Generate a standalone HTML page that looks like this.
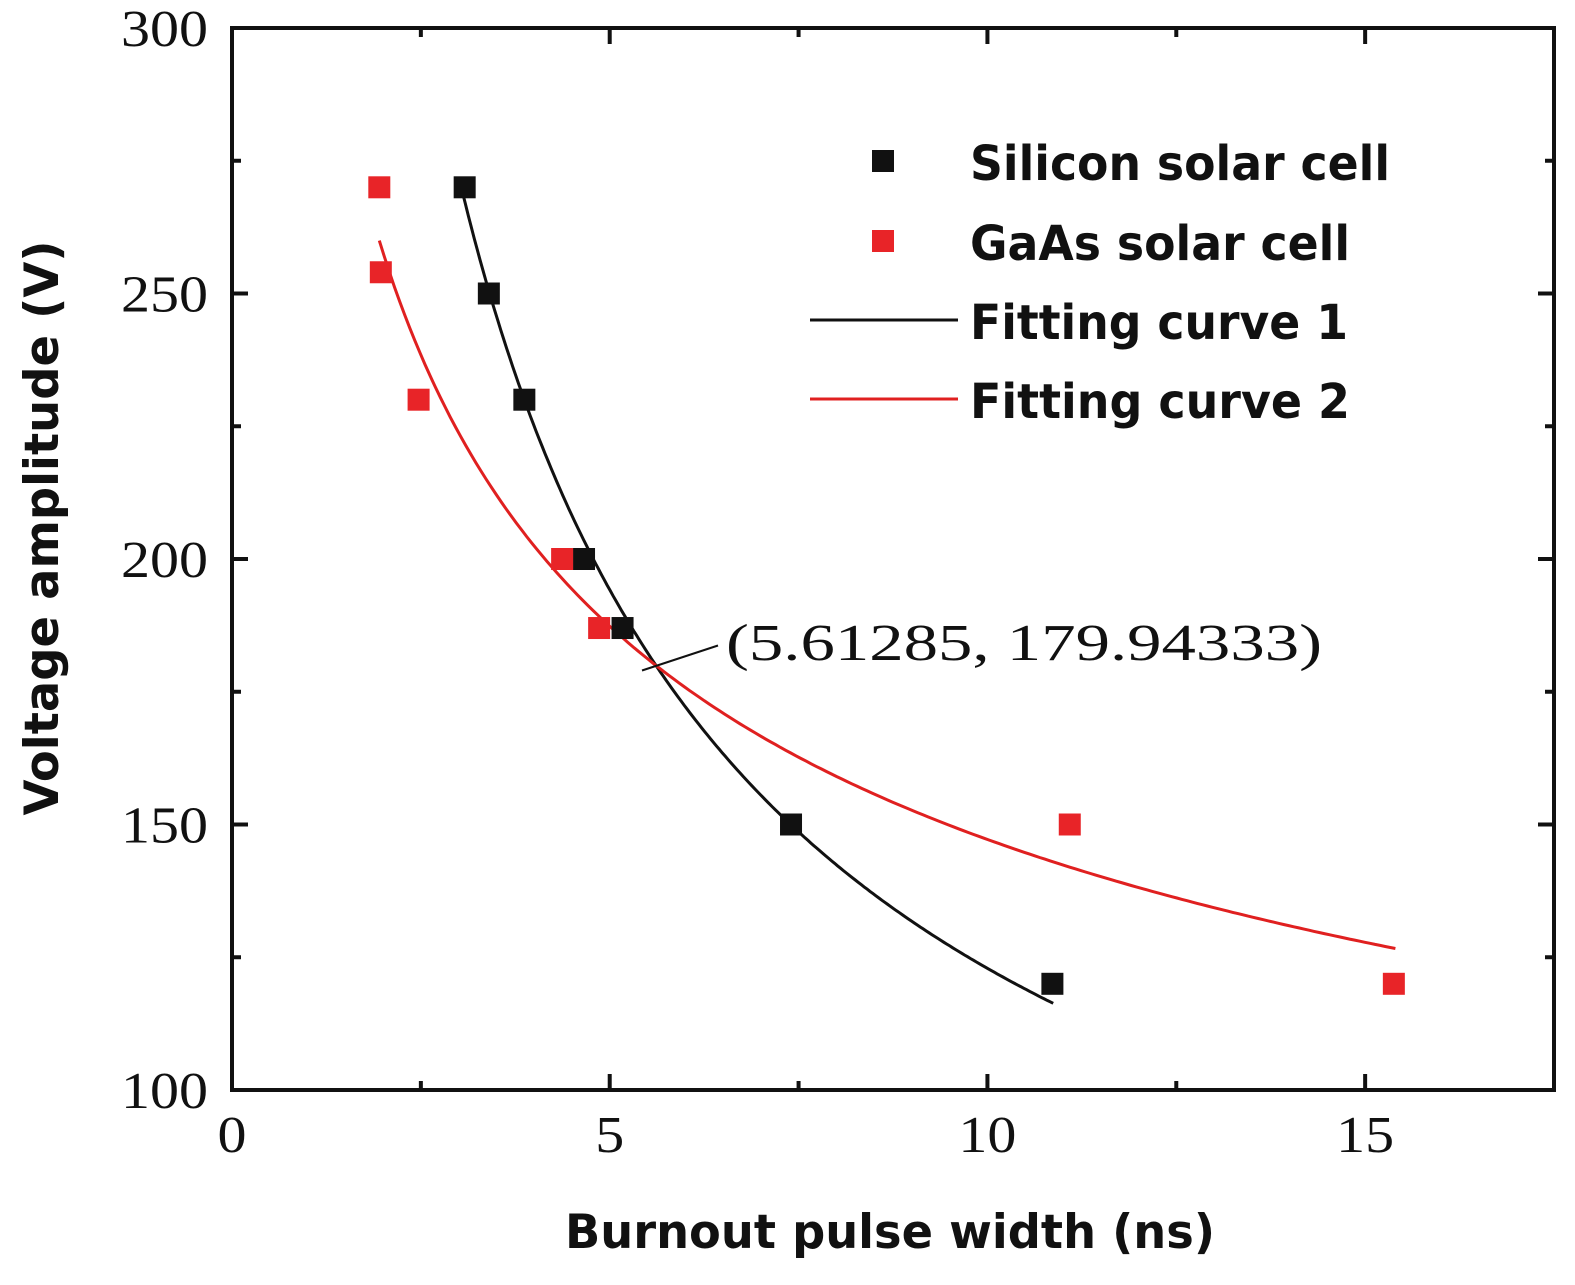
<!DOCTYPE html>
<html><head><meta charset="utf-8"><style>
body{margin:0;background:#fff;}
svg{display:block;}
.tick{font-family:"Liberation Serif",serif;font-size:52px;fill:#111;}
.ann{font-family:"Liberation Serif",serif;font-size:52px;fill:#111;}
.title{font-family:"DejaVu Sans","Liberation Sans",sans-serif;font-weight:bold;font-size:47px;fill:#111;}
.leg{font-family:"DejaVu Sans","Liberation Sans",sans-serif;font-weight:bold;font-size:48px;fill:#111;}
</style></head><body>
<svg id="chart" width="1575" height="1285"></svg>
<script>
const siX=[3.08,3.40,3.87,4.66,5.17,7.40,10.86];
const siY=[270,250,230,200,187,150,120];
const gaX=[1.95,1.97,2.47,4.37,4.86,11.09,15.38];
const gaY=[270,254,230,200,187,150,120];
const fit1=[179.94,-0.66,3.05,10.87];
const fit2=[179.94,-0.348,1.95,15.4];
const crossPt=[5.61285,179.94333];
const xTicks=[0,5,10,15];
const yTicks=[100,150,200,250,300];

const L=232,R=1554,T=28,B=1090;
const xs=v=>L+(v/17.5)*(R-L);
const ys=v=>B-(v-100)/200*(B-T);
const svg=document.getElementById('chart');
const NS='http://www.w3.org/2000/svg';
function mk(t,a,p){const e=document.createElementNS(NS,t);for(const k in a)e.setAttribute(k,a[k]);(p||svg).appendChild(e);return e;}

function curve(f,color,name){
  let d='';for(let i=0;i<=200;i++){const x=f[2]+(f[3]-f[2])*i/200;const y=f[0]*Math.pow(x/crossPt[0],f[1]);d+=(i?'L':'M')+xs(x).toFixed(1)+','+ys(y).toFixed(1);}
  const p=mk('path',{d:d,fill:'none',stroke:color,'stroke-width':3});
  
  
}
curve(fit1,'#111','fitting-curve-1');
curve(fit2,'#e02020','fitting-curve-2');

function pts(X,Y,color,name){
  X.forEach((x,i)=>{const r=mk('rect',{x:xs(x)-11,y:ys(Y[i])-11,width:22,height:22,fill:color});
    
    });
}
pts(siX,siY,'#111','silicon-point');
pts(gaX,gaY,'#e82428','gaas-point');

const fr=mk('rect',{x:L,y:T,width:R-L,height:B-T,fill:'none',stroke:'#111','stroke-width':4});



for(let v=0;v<=17.5;v+=2.5){const maj=v%5===0;const len=maj?16:9;const x=xs(v);
  mk('line',{x1:x,y1:B,x2:x,y2:B-len,stroke:'#111','stroke-width':4});
  mk('line',{x1:x,y1:T,x2:x,y2:T+len,stroke:'#111','stroke-width':4});}
for(let v=100;v<=300;v+=25){const maj=v%50===0;const len=maj?16:9;const y=ys(v);
  mk('line',{x1:L,y1:y,x2:L+len,y2:y,stroke:'#111','stroke-width':4});
  mk('line',{x1:R,y1:y,x2:R-len,y2:y,stroke:'#111','stroke-width':4});}
xTicks.forEach(v=>{const s=String(v);const t=mk('text',{x:xs(v),y:B+62,'text-anchor':'middle',class:'tick',textLength:s.length*29,lengthAdjust:'spacingAndGlyphs'});t.textContent=s;
  
  });
yTicks.forEach(v=>{const t=mk('text',{x:L-24,y:ys(v)+18,'text-anchor':'end',class:'tick',textLength:87,lengthAdjust:'spacingAndGlyphs'});t.textContent=v;
  
  });

const cx=xs(crossPt[0]),cy=ys(crossPt[1]);
mk('line',{x1:cx-14,y1:cy+5,x2:cx+62,y2:cy-20,stroke:'#111','stroke-width':2});
const an=mk('text',{x:726,y:660,class:'ann',textLength:596,lengthAdjust:'spacingAndGlyphs'});an.textContent='('+crossPt[0]+', '+crossPt[1]+')';


</script>
<svg width="1575" height="1285" style="position:absolute;left:0;top:0">
<text class="title" x="565" y="1248" textLength="650" lengthAdjust="spacingAndGlyphs">Burnout pulse width (ns)</text>
<text class="title" transform="translate(58,528) rotate(-90)" text-anchor="middle" textLength="575" lengthAdjust="spacingAndGlyphs">Voltage amplitude (V)</text>
<g>
<rect x="872" y="150" width="22" height="22" fill="#111"/>
<text class="leg" x="970" y="180" textLength="420" lengthAdjust="spacingAndGlyphs">Silicon solar cell</text>
<rect x="872" y="230" width="22" height="22" fill="#e82428"/>
<text class="leg" x="970" y="260" textLength="380" lengthAdjust="spacingAndGlyphs">GaAs solar cell</text>
<line x1="810" y1="320" x2="958" y2="320" stroke="#111" stroke-width="3"/>
<text class="leg" x="970" y="339" textLength="378" lengthAdjust="spacingAndGlyphs">Fitting curve 1</text>
<line x1="810" y1="399" x2="958" y2="399" stroke="#e02020" stroke-width="3"/>
<text class="leg" x="970" y="418" textLength="380" lengthAdjust="spacingAndGlyphs">Fitting curve 2</text>
</g>
</svg>
</body></html>
